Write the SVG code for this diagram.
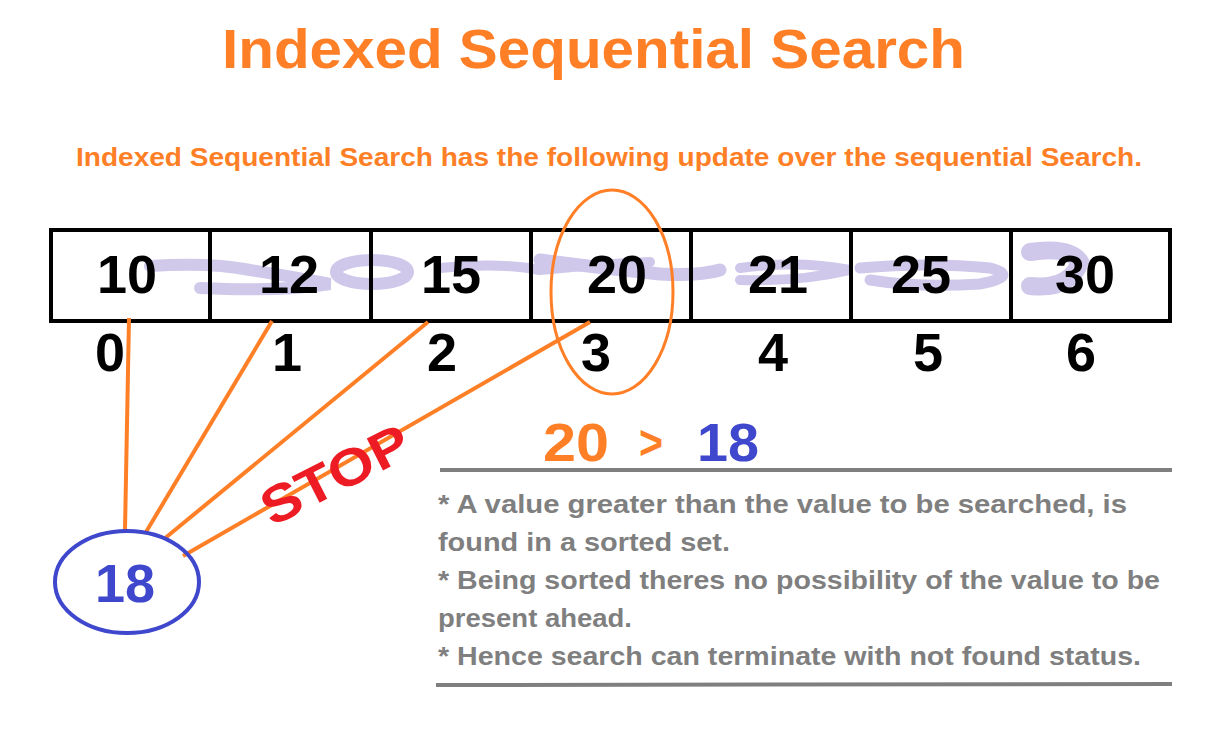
<svg xmlns="http://www.w3.org/2000/svg" width="1232" height="747" viewBox="0 0 1232 747">
<style>
.t{font-family:"Liberation Sans",Arial,sans-serif;font-weight:bold}
.or{fill:#FF7F27}
.bl{fill:#3F48CC}
.bk{fill:#000}
.gr{fill:#7F7F7F}
.num{font-size:54px;text-anchor:middle}
.body{font-size:25px}
.wm{fill:none;stroke:#CBC3E8;stroke-linecap:round}
.conn{stroke:#FF7F27;stroke-width:4;fill:none}
</style>
<rect width="1232" height="747" fill="#fff"/>
<g id="title">
<text class="t or" x="222" y="68" font-size="56" textLength="743" lengthAdjust="spacingAndGlyphs">Indexed Sequential Search</text>
<text class="t or" x="76" y="166" font-size="26" textLength="1066" lengthAdjust="spacingAndGlyphs">Indexed Sequential Search has the following update over the sequential Search.</text>
</g>
<g id="watermark" opacity="0.9">
<path class="wm" stroke-width="12" d="M150 266 Q210 262 250 270 Q300 278 330 284 Q280 292 200 288"/>
<ellipse class="wm" stroke-width="12" cx="372" cy="272" rx="36" ry="12"/>
<path class="wm" stroke-width="10" d="M440 268 Q500 262 540 270 Q600 264 650 262"/>
<path class="wm" stroke-width="13" d="M540 260 Q600 268 660 274 Q700 276 720 270"/>
<path class="wm" stroke-width="10" d="M740 268 Q800 260 850 270 Q800 282 740 280"/>
<path class="wm" stroke-width="11" d="M860 268 Q930 262 990 268 Q1020 276 980 284 Q920 288 870 280"/>
<path class="wm" stroke-width="18" d="M1030 252 Q1070 246 1080 262 Q1070 290 1030 286"/>
</g>
<g id="array">
<rect x="51" y="230" width="1119" height="91" fill="none" stroke="#000" stroke-width="4"/>
<g stroke="#000" stroke-width="4">
<line x1="210" y1="230" x2="210" y2="321"/>
<line x1="371" y1="230" x2="371" y2="321"/>
<line x1="531" y1="230" x2="531" y2="321"/>
<line x1="691" y1="230" x2="691" y2="321"/>
<line x1="851" y1="230" x2="851" y2="321"/>
<line x1="1011" y1="230" x2="1011" y2="321"/>
</g>
<text class="t bk num" x="127" y="293">10</text>
<text class="t bk num" x="289" y="293">12</text>
<text class="t bk num" x="451" y="293">15</text>
<text class="t bk num" x="617" y="293">20</text>
<text class="t bk num" x="778" y="293">21</text>
<text class="t bk num" x="921" y="293">25</text>
<text class="t bk num" x="1085" y="293">30</text>
<text class="t bk num" x="110" y="371">0</text>
<text class="t bk num" x="287" y="371">1</text>
<text class="t bk num" x="442" y="371">2</text>
<text class="t bk num" x="596" y="371">3</text>
<text class="t bk num" x="773" y="371">4</text>
<text class="t bk num" x="928" y="371">5</text>
<text class="t bk num" x="1081" y="371">6</text>
</g>
<g id="highlight">
<ellipse cx="612" cy="292" rx="61" ry="102" fill="none" stroke="#FF7F27" stroke-width="3"/>
</g>
<g id="connectors">
<line class="conn" x1="129" y1="318" x2="125" y2="530"/>
<line class="conn" x1="272" y1="321" x2="146" y2="532"/>
<line class="conn" x1="428" y1="322" x2="164" y2="539"/>
<line class="conn" x1="590" y1="322" x2="183" y2="556"/>
</g>
<g id="key">
<ellipse cx="127" cy="582" rx="72" ry="51" fill="none" stroke="#3F48CC" stroke-width="4"/>
<text class="t bl num" x="125" y="602">18</text>
</g>
<g id="stop">
<text class="t" x="0" y="0" font-size="52" fill="#ED1C24" transform="translate(272 527) rotate(-27)" textLength="160" lengthAdjust="spacingAndGlyphs">STOP</text>
</g>
<g id="compare">
<text class="t or" x="543" y="461" font-size="54" textLength="66" lengthAdjust="spacingAndGlyphs">20</text>
<text class="t or" x="639" y="459" font-size="48" textLength="24" lengthAdjust="spacingAndGlyphs">&gt;</text>
<text class="t bl" x="697" y="461" font-size="54" textLength="62" lengthAdjust="spacingAndGlyphs">18</text>
</g>
<g id="notes">
<line x1="440" y1="470" x2="1172" y2="470" stroke="#7F7F7F" stroke-width="4"/>
<text class="t gr body" x="438" y="513" textLength="689" lengthAdjust="spacingAndGlyphs">* A value greater than the value to be searched, is</text>
<text class="t gr body" x="438" y="551" textLength="292" lengthAdjust="spacingAndGlyphs">found in a sorted set.</text>
<text class="t gr body" x="438" y="589" textLength="722" lengthAdjust="spacingAndGlyphs">* Being sorted theres no possibility of the value to be</text>
<text class="t gr body" x="438" y="627" textLength="194" lengthAdjust="spacingAndGlyphs">present ahead.</text>
<text class="t gr body" x="438" y="665" textLength="703" lengthAdjust="spacingAndGlyphs">* Hence search can terminate with not found status.</text>
<line x1="436" y1="685" x2="1172" y2="684" stroke="#7F7F7F" stroke-width="4"/>
</g>
</svg>
